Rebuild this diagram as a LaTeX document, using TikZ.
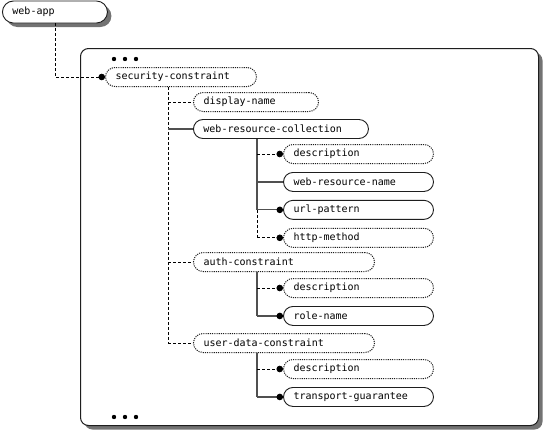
\documentclass[tikz,border=0pt]{standalone}
\usepackage{fontspec}
\setmonofont{DejaVu Sans Mono}
\usepackage{tikz}
\usetikzlibrary{positioning,arrows.meta,shadows,calc}
\definecolor{edge}{RGB}{30,30,30}
\definecolor{wire}{RGB}{80,80,80}
\definecolor{shade}{RGB}{90,90,90}

\begin{document}
\begin{tikzpicture}[x=1pt, y=-1pt,
  node distance=8pt,
  elem/.style={draw=edge, line width=0.9pt, rounded corners=9.5pt, minimum height=19pt,
               inner xsep=10pt, inner ysep=0pt, align=left, anchor=west, fill=white,
               font=\ttfamily\fontsize{10}{12}\selectfont},
  req/.style={elem},
  opt/.style={elem, line width=1pt, dash pattern=on 1.1pt off 1.1pt},
  leaf/.style={text width=130pt},
  reqline/.style={draw=wire, line width=1.1pt},
  optline/.style={draw=black, line width=0.7pt, dash pattern=on 3pt off 2pt},
  dot/.style={-{Circle[length=6.5pt, color=black, fill=black]}},
  frame/.style={draw=edge, line width=1pt, rounded corners=8pt, fill=white, inner sep=0pt,
                drop shadow={shadow xshift=4pt, shadow yshift=-4pt, fill=shade, opacity=0.85}},
]
\useasboundingbox (0,0) rectangle (547,437);

% Outer frame
\node[frame, anchor=north west, minimum width=458pt, minimum height=377pt] (box) at (80,48) {};
\foreach \dx in {114,125,136} {
  \fill (\dx,59) circle (2.2pt);
  \fill (\dx,417) circle (2.2pt);
}

% Root
\node[req, text width=85pt, minimum height=22pt, rounded corners=11pt,
      drop shadow={shadow xshift=4pt, shadow yshift=-4pt, fill=shade, opacity=0.85}] (app) at (2,12) {web-app};

% Level 1
\node[opt, text width=131pt] (sec) at (105,77) {security-constraint};
\node[opt, text width=105pt] (dname) at (193,102) {display-name};
\node[req, text width=155pt] (wrc) at (193,129) {web-resource-collection};
\node[opt, text width=161pt] (auth) at (193,262) {auth-constraint};
\node[opt, text width=161pt] (udc) at (193,343) {user-data-constraint};

% Level 2 — web-resource-collection
\node[opt, leaf] (wdesc) at (283,154) {description};
\node[req, leaf, below=of wdesc] (wrname) {web-resource-name};
\node[req, leaf, below=of wrname] (url) {url-pattern};
\node[opt, leaf, below=of url] (method) {http-method};

% Level 2 — auth-constraint
\node[opt, leaf] (adesc) at (283,288) {description};
\node[req, leaf, below=of adesc] (role) {role-name};

% Level 2 — user-data-constraint
\node[opt, leaf] (udesc) at (283,369) {description};
\node[req, leaf, below=of udesc] (guar) {transport-guarantee};

% Connections
\coordinate (trunk) at ($(sec.south west)+(63,0)$);
\coordinate (wt) at ($(wrc.south west)+(64,0)$);
\coordinate (at) at ($(auth.south west)+(64,0)$);
\coordinate (ut) at ($(udc.south west)+(64,0)$);

\draw[optline, dot] (app.south) |- (sec.west);
\draw[optline] (trunk) -- (trunk |- udc.west);
\draw[optline] (trunk |- dname.west) -- (dname.west);
\draw[reqline] (trunk |- wrc.west) -- (wrc.west);
\draw[optline] (trunk |- auth.west) -- (auth.west);
\draw[optline] (trunk |- udc.west) -- (udc.west);

\draw[reqline] (wt) -- (wt |- url.west);
\draw[optline] (wt |- url.west) -- (wt |- method.west);
\draw[optline, dot] (wt |- wdesc.west) -- (wdesc.west);
\draw[reqline] (wt |- wrname.west) -- (wrname.west);
\draw[reqline, dot] (wt |- url.west) -- (url.west);
\draw[optline, dot] (wt |- method.west) -- (method.west);

\draw[reqline] (at) -- (at |- role.west);
\draw[optline, dot] (at |- adesc.west) -- (adesc.west);
\draw[reqline, dot] (at |- role.west) -- (role.west);

\draw[reqline] (ut) -- (ut |- guar.west);
\draw[optline, dot] (ut |- udesc.west) -- (udesc.west);
\draw[reqline, dot] (ut |- guar.west) -- (guar.west);
\end{tikzpicture}
\end{document}
